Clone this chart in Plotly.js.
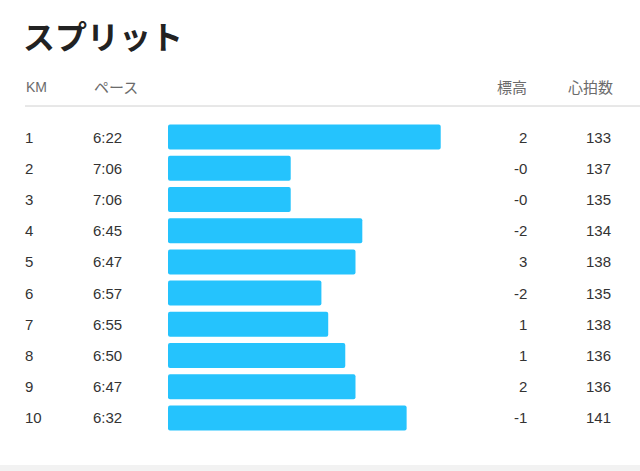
<!DOCTYPE html>
<html>
<head>
<meta charset="utf-8">
<script src="https://cdn.plot.ly/plotly-3.0.1.min.js"></script>
<style>
  html, body { margin: 0; padding: 0; background: #fff; }
  #chart { width: 640px; height: 471px; }
</style>
</head>
<body>
<div id="chart"></div>
<script>
// ── Split data ────────────────────────────────────────────────────────────────
const KM        = ['1','2','3','4','5','6','7','8','9','10'];
const PACE      = ['6:22','7:06','7:06','6:45','6:47','6:57','6:55','6:50','6:47','6:32'];
const ELEVATION = ['2','-0','-0','-2','3','-2','1','1','2','-1'];
const HEART     = [133, 137, 135, 134, 138, 135, 138, 136, 136, 141];

const HEADERS = { km: 'KM', pace: 'ペース', elev: '標高', hr: '心拍数' };
const TITLE   = 'スプリット';

const W = 640, H = 471;
const BAR_COLOR = '#25c3fd';
const CJK  = '"Noto Sans CJK JP", sans-serif';
const NUM  = '"Liberation Sans", Arial, sans-serif';
const PACE_BASE = 462;   // slow end of the bar scale (seconds/km)

const toSec = p => { const [m, s] = p.split(':').map(Number); return m * 60 + s; };
const paceSec = PACE.map(toSec);

const px = x => x / W;
const py = y => 1 - y / H;

// row text, placed on the category index of the y axis
const colText = (vals, x, anchor) => vals.map((v, i) => ({
  x: px(x), xref: 'paper', xanchor: anchor,
  y: i, yref: 'y', yanchor: 'middle',
  text: String(v), showarrow: false,
  font: { family: NUM, size: 15, color: '#333' },
}));

const header = (t, x, anchor, fam, size) => ({
  x: px(x), xref: 'paper', xanchor: anchor,
  y: py(87), yref: 'paper', yanchor: 'middle',
  text: t, showarrow: false,
  font: { family: fam, size: size, color: '#6b6b6b' },
});

Plotly.newPlot('chart', [{
  type: 'bar', orientation: 'h',
  y: KM,
  x: paceSec.map(s => s - PACE_BASE),
  base: PACE_BASE,
  marker: { color: BAR_COLOR, cornerradius: 2 },
  hoverinfo: 'skip',
}], {
  width: W, height: H,
  paper_bgcolor: '#fff', plot_bgcolor: 'rgba(0,0,0,0)',
  margin: { t: 0, r: 0, b: 0, l: 0 },
  showlegend: false,
  bargap: 0.2,
  title: { text: TITLE, x: px(23), xanchor: 'left', y: py(38), yanchor: 'middle',
           font: { family: CJK, size: 32, color: '#222', weight: 700 } },
  xaxis: { domain: [px(168), px(468)], range: [PACE_BASE, PACE_BASE - 300 / 3.409],
           visible: false, fixedrange: true },
  yaxis: { type: 'category', domain: [py(433.6), py(121.4)], range: [9.5, -0.5],
           visible: false, fixedrange: true },
  shapes: [
    { type: 'line', xref: 'paper', yref: 'paper', x0: px(25), x1: 1, y0: py(106), y1: py(106),
      line: { color: '#d0d0d0', width: 1 } },
    { type: 'rect', xref: 'paper', yref: 'paper', x0: 0, x1: 1, y0: 0, y1: py(465),
      fillcolor: '#f2f2f2', line: { width: 0 } },
  ],
  annotations: [
    header(HEADERS.km, 24, 'left', NUM, 14),
    header(HEADERS.pace, 92, 'left', CJK, 15),
    header(HEADERS.elev, 529, 'right', CJK, 15),
    header(HEADERS.hr, 615, 'right', CJK, 15),
    ...colText(KM, 23, 'left'),
    ...colText(PACE, 91, 'left'),
    ...colText(ELEVATION, 529, 'right'),
    ...colText(HEART, 613, 'right'),
  ],
}, { displayModeBar: false, staticPlot: true });
</script>
</body>
</html>
